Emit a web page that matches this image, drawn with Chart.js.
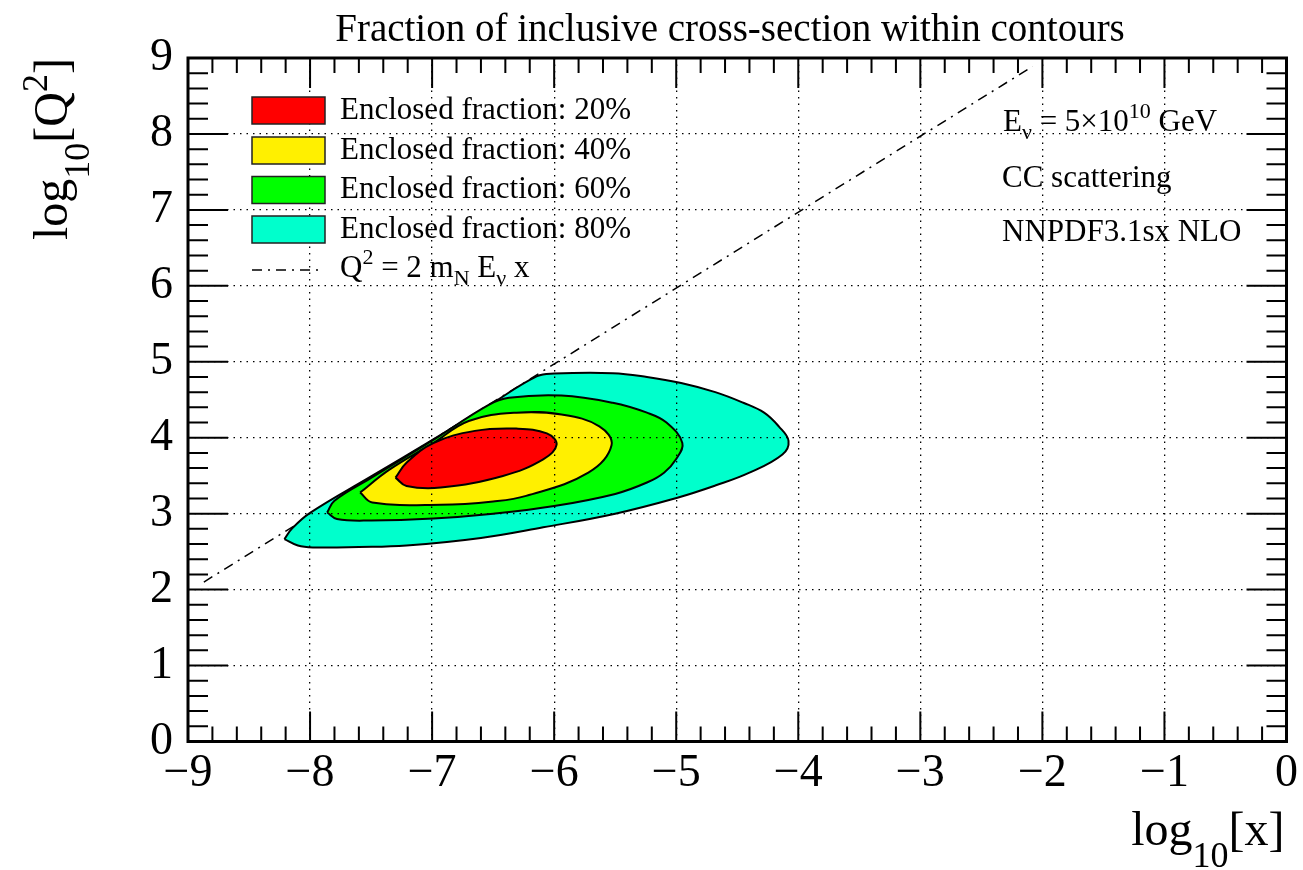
<!DOCTYPE html>
<html>
<head>
<meta charset="utf-8">
<title>Enclosed cross-section fractions</title>
<script src="https://cdn.jsdelivr.net/npm/chart.js@4/dist/chart.umd.min.js"></script>
<style>
  body { margin: 0; background: #fff; }
  #wrap { width: 1303px; height: 870px; }
</style>
</head>
<body>
<div id="wrap"><canvas id="contours" width="1303" height="870"></canvas></div>
<script>
// contour outlines in (log10 x, log10 Q^2), traced tip -> bottom -> right -> top -> back
const red20X = [-7.30, -7.21, -6.93, -6.42, -6.09, -5.98, -6.06, -6.31, -6.65, -6.99, -7.21, -7.30];
const red20Y = [3.475, 3.365, 3.344, 3.497, 3.716, 3.91, 4.057, 4.12, 4.09, 3.93, 3.67, 3.475];

const yellow40X = [-7.59, -7.49, -6.93, -6.50, -6.23, -5.72, -5.53, -5.63, -5.94, -6.31, -6.70, -6.99, -7.35, -7.59];
const yellow40Y = [3.278, 3.147, 3.116, 3.16, 3.234, 3.54, 3.90, 4.15, 4.305, 4.33, 4.22, 3.93, 3.58, 3.278];

const green60X = [-7.86, -7.78, -7.50, -6.99, -6.50, -6.00, -5.50, -5.24, -5.10, -5.00, -4.95, -5.08, -5.24, -5.52, -5.94, -6.37, -6.54, -7.00, -7.50, -7.80, -7.86];
const green60Y = [3.015, 2.93, 2.91, 2.937, 3.00, 3.10, 3.26, 3.41, 3.54, 3.72, 3.93, 4.20, 4.33, 4.46, 4.555, 4.525, 4.43, 3.96, 3.47, 3.17, 3.015];

const cyan80X = [-8.21, -8.10, -7.97, -7.60, -7.21, -6.60, -6.09, -5.50, -4.99, -4.68, -4.40, -4.13, -4.08, -4.16, -4.28, -4.45, -4.68, -4.96, -5.24, -5.52, -6.00, -6.14, -6.55, -7.00, -7.50, -8.00, -8.15, -8.21];
const cyan80Y = [2.665, 2.58, 2.555, 2.56, 2.58, 2.68, 2.82, 3.00, 3.21, 3.37, 3.54, 3.78, 3.96, 4.15, 4.33, 4.46, 4.60, 4.72, 4.80, 4.85, 4.845, 4.81, 4.41, 3.97, 3.49, 3.01, 2.80, 2.665];

// kinematic limit Q^2 = 2 m_N E_nu x
const limitX = [-8.87, -2.08];
const limitY = [2.10, 8.89];

const fractionLabels = ["Enclosed fraction: 20%", "Enclosed fraction: 40%", "Enclosed fraction: 60%", "Enclosed fraction: 80%"];
const fillColors = ["#ff0000", "#fff000", "#00ff00", "#00ffcc"];

const xTickValues = [-9, -8, -7, -6, -5, -4, -3, -2, -1, 0];
const yTickValues = [0, 1, 2, 3, 4, 5, 6, 7, 8, 9];

const SERIF = "'Liberation Serif', 'Times New Roman', serif";
const DASHDOT = [10, 6, 2, 6];

function pts(xs, ys) {
    return xs.map((x, i) => ({ x: x, y: ys[i] }));
}

const outlines = [[red20X, red20Y], [yellow40X, yellow40Y], [green60X, green60Y], [cyan80X, cyan80Y]];

const datasets = outlines.map((o, i) => ({
    label: fractionLabels[i],
    data: pts(o[0], o[1]),
    fill: "shape",
    backgroundColor: fillColors[i],
    borderColor: "#000",
    borderWidth: 2,
    tension: 0.4,
    pointRadius: 0,
}));

datasets.push({
    label: "limit",
    data: pts(limitX, limitY),
    fill: false,
    borderColor: "#000",
    borderWidth: 1.5,
    borderDash: DASHDOT,
    tension: 0,
    pointRadius: 0,
});

// text with sub/superscripts: parts = [[text, "n" | "sub" | "sup"], ...]
function richWidth(ctx, parts, size, st) {
    let w = 0;
    for (const [t, m] of parts) {
        ctx.font = (m === "n" ? size : Math.round(size * st.scale)) + "px " + SERIF;
        w += ctx.measureText(t).width;
    }
    return w;
}

function richText(ctx, x, y, parts, size, st) {
    ctx.textAlign = "left";
    ctx.textBaseline = "alphabetic";
    for (const [t, m] of parts) {
        const s = m === "n" ? size : Math.round(size * st.scale);
        const dy = m === "sub" ? size * st.sub : m === "sup" ? -size * st.sup : 0;
        ctx.font = s + "px " + SERIF;
        ctx.fillText(t, x, y + dy);
        x += ctx.measureText(t).width;
    }
}

const TITLE_STYLE = { scale: 0.74, sub: 0.45, sup: 0.42 };
const TEXT_STYLE = { scale: 0.7, sub: 0.25, sup: 0.42 };

const decorations = {
    id: "decorations",
    afterDraw(chart) {
        const { ctx, chartArea: a, scales } = chart;
        const sx = scales.x, sy = scales.y;
        ctx.save();
        ctx.fillStyle = "#000";
        ctx.strokeStyle = "#000";

        // tick marks inside the frame on all four sides
        ctx.lineWidth = 2;
        ctx.beginPath();
        for (let v = -9; v <= 0.001; v += 0.2) {
            const px = sx.getPixelForValue(v);
            const major = Math.abs(v - Math.round(v)) < 0.01;
            const len = major ? 30 : 15;
            ctx.moveTo(px, a.bottom); ctx.lineTo(px, a.bottom - len);
            ctx.moveTo(px, a.top); ctx.lineTo(px, a.top + len);
        }
        for (let v = 0; v <= 9.001; v += 0.2) {
            const py = sy.getPixelForValue(v);
            const major = Math.abs(v - Math.round(v)) < 0.01;
            const len = major ? 40 : 20;
            ctx.moveTo(a.left, py); ctx.lineTo(a.left + len, py);
            ctx.moveTo(a.right, py); ctx.lineTo(a.right - len, py);
        }
        ctx.stroke();

        // frame
        ctx.lineWidth = 3;
        ctx.strokeRect(a.left, a.top, a.right - a.left, a.bottom - a.top);

        // title
        ctx.font = "39px " + SERIF;
        ctx.textAlign = "center";
        ctx.textBaseline = "alphabetic";
        ctx.fillText("Fraction of inclusive cross-section within contours", 730, 41);

        // axis titles
        const xTitle = [["log", "n"], ["10", "sub"], ["[x]", "n"]];
        richText(ctx, a.right - 2 - richWidth(ctx, xTitle, 48, TITLE_STYLE), 845, xTitle, 48, TITLE_STYLE);
        const yTitle = [["log", "n"], ["10", "sub"], ["[Q", "n"], ["2", "sup"], ["]", "n"]];
        ctx.save();
        ctx.translate(67, a.top);
        ctx.rotate(-Math.PI / 2);
        richText(ctx, -richWidth(ctx, yTitle, 48, TITLE_STYLE), 0, yTitle, 48, TITLE_STYLE);
        ctx.restore();

        // legend
        const rowY = [110.5, 150.5, 190, 229.5, 270];
        chart.data.datasets.slice(0, 4).forEach((ds, i) => {
            ctx.fillStyle = ds.backgroundColor;
            ctx.fillRect(252, rowY[i] - 13.5, 73, 27);
            ctx.lineWidth = 1.5;
            ctx.strokeStyle = "#222";
            ctx.strokeRect(252, rowY[i] - 13.5, 73, 27);
            ctx.fillStyle = "#000";
            ctx.font = "31px " + SERIF;
            ctx.textAlign = "left";
            ctx.textBaseline = "alphabetic";
            ctx.fillText(ds.label, 340, rowY[i] + 8);
        });
        ctx.strokeStyle = "#000";
        ctx.lineWidth = 1.5;
        ctx.setLineDash(DASHDOT);
        ctx.beginPath();
        ctx.moveTo(252, rowY[4]);
        ctx.lineTo(320, rowY[4]);
        ctx.stroke();
        ctx.setLineDash([]);
        richText(ctx, 340, rowY[4] + 7, [["Q", "n"], ["2", "sup"], [" = 2 m", "n"], ["N", "sub"], [" E", "n"], ["\u03bd", "sub"], [" x", "n"]], 31, TEXT_STYLE);

        // run information
        richText(ctx, 1003, 131, [["E", "n"], ["\u03bd", "sub"], [" = 5\u00d710", "n"], ["10", "sup"], [" GeV", "n"]], 31, TEXT_STYLE);
        ctx.font = "31px " + SERIF;
        ctx.fillText("CC scattering", 1002, 187);
        ctx.fillText("NNPDF3.1sx NLO", 1002, 241);
        ctx.restore();
    }
};

const tickFont = { family: SERIF, size: 46 };
const fmt = v => (v < 0 ? "\u2212" + Math.abs(v) : String(v));

new Chart(document.getElementById("contours"), {
    type: "line",
    data: { datasets: datasets },
    options: {
        responsive: false,
        animation: false,
        parsing: true,
        elements: { line: { tension: 0.4 } },
        layout: { padding: { top: 58, right: 14, left: 0, bottom: 0 } },
        plugins: { legend: { display: false }, tooltip: { enabled: false } },
        scales: {
            x: {
                type: "linear",
                min: -9, max: 0,
                afterFit: s => { s.height = 128.5; },
                afterBuildTicks: s => { s.ticks = xTickValues.map(v => ({ value: v })); },
                grid: { color: "#000", lineWidth: 1.3, drawTicks: false, z: 1 },
                border: { display: false, dash: [1.5, 5] },
                ticks: { color: "#000", font: tickFont, padding: 5, maxRotation: 0, autoSkip: false, callback: fmt },
            },
            y: {
                type: "linear",
                min: 0, max: 9,
                afterFit: s => { s.width = 188; },
                afterBuildTicks: s => { s.ticks = yTickValues.map(v => ({ value: v })); },
                grid: { color: "#000", lineWidth: 1.3, drawTicks: false, z: 1 },
                border: { display: false, dash: [1.5, 5] },
                ticks: { color: "#000", font: tickFont, padding: 15, autoSkip: false, callback: fmt },
            },
        },
    },
    plugins: [decorations],
});
</script>
</body>
</html>
